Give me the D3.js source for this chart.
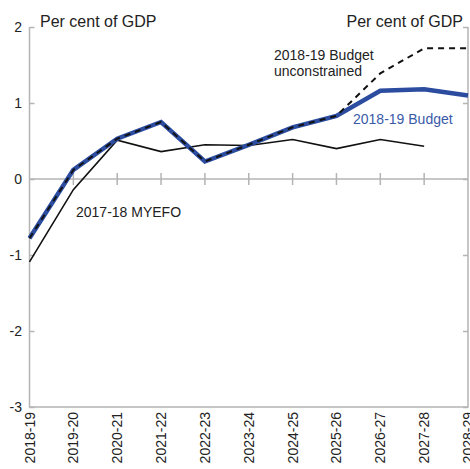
<!DOCTYPE html>
<html>
<head>
<meta charset="utf-8">
<script src="https://cdn.jsdelivr.net/npm/d3@7"></script>
<style>
  body { margin: 0; background: #fff; }
  text { font-family: "Liberation Sans", Arial, sans-serif; }
</style>
</head>
<body>
<div id="chart"></div>
<script>
// data
var years = ["2018-19", "2019-20", "2020-21", "2021-22", "2022-23", "2023-24",
  "2024-25", "2025-26", "2026-27", "2027-28", "2028-29"];
var budget = [-0.78, 0.12, 0.53, 0.75, 0.23, 0.45, 0.68, 0.83, 1.16, 1.18, 1.10];
var unconstrained = [-0.78, 0.12, 0.53, 0.75, 0.23, 0.45, 0.68, 0.83, 1.39, 1.72, 1.72];
var myefo = [-1.09, -0.14, 0.51, 0.36, 0.45, 0.44, 0.52, 0.40, 0.52, 0.43, null];
var yTicks = [-3, -2, -1, 0, 1, 2];

var width = 470, height = 469;
var svg = d3.select("#chart").append("svg").attr("width", width).attr("height", height);

var x = d3.scalePoint().domain(years).range([29.5, 468]);
var y = d3.scaleLinear().domain([-3, 2]).range([407, 27]);

var axisCol = "#b4b4b4";

// frame: left, right, bottom
svg.append("path")
  .attr("d", "M" + x.range()[0] + "," + y(2) + "V" + y(-3) + "H" + x.range()[1] + "V" + y(2))
  .attr("fill", "none").attr("stroke", axisCol).attr("stroke-width", 1.5);

// left axis
var yl = svg.append("g").attr("transform", "translate(" + x.range()[0] + ",0)")
  .call(d3.axisRight(y).tickValues(yTicks).tickSize(5).tickFormat(""));
yl.select(".domain").remove();
yl.selectAll("line").attr("stroke", axisCol).attr("stroke-width", 1.5);

svg.append("g").selectAll("text").data(yTicks).enter().append("text")
  .attr("x", 22).attr("y", function (d) { return y(d) + 5; })
  .attr("text-anchor", "end").attr("font-size", 14).attr("fill", "#222")
  .text(function (d) { return d; });

// right axis
var yr = svg.append("g").attr("transform", "translate(" + x.range()[1] + ",0)")
  .call(d3.axisLeft(y).tickValues(yTicks).tickSize(5).tickFormat(""));
yr.select(".domain").remove();
yr.selectAll("line").attr("stroke", axisCol).attr("stroke-width", 1.5);

// zero line with crossing ticks
svg.append("line").attr("x1", x.range()[0]).attr("x2", x.range()[1])
  .attr("y1", y(0)).attr("y2", y(0)).attr("stroke", axisCol).attr("stroke-width", 1.5);
svg.append("g").selectAll("line").data(years.slice(1, -1)).enter().append("line")
  .attr("x1", function (d) { return x(d); }).attr("x2", function (d) { return x(d); })
  .attr("y1", y(0) - 6).attr("y2", y(0) + 6)
  .attr("stroke", axisCol).attr("stroke-width", 1.5);

// category labels, rotated
svg.append("g").selectAll("text").data(years).enter().append("text")
  .attr("transform", function (d) { return "translate(" + (x(d) + 5) + "," + 412 + ") rotate(-90)"; })
  .attr("text-anchor", "end").attr("font-size", 14).attr("fill", "#222")
  .text(function (d) { return d; });

var line = d3.line()
  .defined(function (d) { return d != null; })
  .x(function (d, i) { return x(years[i]); })
  .y(function (d) { return y(d); });

svg.append("path").datum(myefo).attr("d", line)
  .attr("fill", "none").attr("stroke", "#111").attr("stroke-width", 1.6);

svg.append("path").datum(budget).attr("d", line)
  .attr("fill", "none").attr("stroke", "#2b4c9f").attr("stroke-width", 4.5)
  .attr("stroke-linejoin", "miter");

svg.append("path").datum(unconstrained).attr("d", line)
  .attr("fill", "none").attr("stroke", "#111").attr("stroke-width", 2)
  .attr("stroke-dasharray", "6,5");

// titles and labels
svg.append("text").attr("x", 40).attr("y", 27).attr("font-size", 16).attr("fill", "#222")
  .text("Per cent of GDP");
svg.append("text").attr("x", 463).attr("y", 27).attr("text-anchor", "end")
  .attr("font-size", 16).attr("fill", "#222").text("Per cent of GDP");

var ul = svg.append("text").attr("x", 274).attr("font-size", 14).attr("fill", "#222");
ul.append("tspan").attr("x", 274).attr("y", 60).text("2018-19 Budget");
ul.append("tspan").attr("x", 274).attr("y", 76).text("unconstrained");

svg.append("text").attr("x", 353).attr("y", 124).attr("font-size", 14)
  .attr("fill", "#3a5aa8").text("2018-19 Budget");

svg.append("text").attr("x", 76).attr("y", 217).attr("font-size", 14)
  .attr("fill", "#222").text("2017-18 MYEFO");
</script>
</body>
</html>
